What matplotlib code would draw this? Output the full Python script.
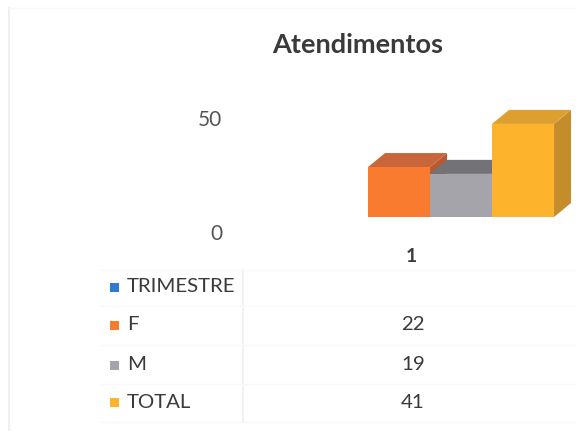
import matplotlib
matplotlib.use("Agg")
import matplotlib.pyplot as plt
import matplotlib.transforms as mtransforms
from matplotlib.patches import Polygon, Rectangle

plt.rcParams["font.family"] = ["Lato", "DejaVu Sans"]

TITLE = "Atendimentos"
CATEGORIES = ["1"]
SERIES = ["TRIMESTRE", "F", "M", "TOTAL"]
VALUES = [None, 22, 19, 41]
Y_TICKS = [0, 50]

FRONT = ["#2F7BD0", "#F97B2F", "#A4A4AA", "#FDB32C"]
TOP = ["#2060A8", "#C9653A", "#737377", "#DDA030"]
SIDE = ["#1E5590", "#B85A30", "#88888C", "#C58C2C"]
TEXT = "#3a3a3a"

W, H = 580, 434
fig = plt.figure(figsize=(W / 100, H / 100), dpi=100)


def fx(px):
    return px / W


def fy(py):
    return 1 - py / H


# plot area = front faces of the 3d columns
left, right, bottom, top = 243, 580, 217, 103.5
ax = fig.add_axes([fx(left), fy(bottom), fx(right - left), (bottom - top) / H])
ax.set_xlim(-0.5, 0.5)
ax.set_ylim(0, 50)
for s in ax.spines.values():
    s.set_visible(False)

bw = 62 / (right - left)          # column width in data units
shift = 0.055                     # perspective shift of the group
ddx = 17 / (right - left)         # depth offset (x)
ddy = 14 / ((bottom - top) / 50)  # depth offset (y)

for i, (name, v) in enumerate(zip(SERIES, VALUES)):
    if v is None:
        continue
    xl = (i - len(SERIES) / 2) * bw + shift
    z = 2 + i
    side = Polygon([(xl + bw, 0), (xl + bw, v), (xl + bw + ddx, v + ddy),
                    (xl + bw + ddx, ddy)], closed=True, facecolor=SIDE[i],
                   edgecolor="none", zorder=z, clip_on=False)
    topf = Polygon([(xl, v), (xl + bw, v), (xl + bw + ddx, v + ddy),
                    (xl + ddx, v + ddy)], closed=True, facecolor=TOP[i],
                   edgecolor="none", zorder=z, clip_on=False)
    ax.add_patch(side)
    ax.add_patch(topf)
    ax.bar(xl, v, width=bw, align="edge", color=FRONT[i], edgecolor="none",
           zorder=z + 0.5, clip_on=False)

ax.set_yticks(Y_TICKS)
ax.set_yticklabels([str(t) for t in Y_TICKS], fontsize=15, color="#555555")
ax.tick_params(axis="y", length=0, pad=15)
off = mtransforms.ScaledTranslation(0, -15 / 100, fig.dpi_scale_trans)
for lab in ax.get_yticklabels():
    lab.set_transform(lab.get_transform() + off)

ax.set_xticks([0])
ax.set_xticklabels(CATEGORIES, fontsize=14, color=TEXT, fontweight="bold")
ax.tick_params(axis="x", length=0, pad=22)

fig.text(fx(358), fy(45), TITLE, fontsize=19.5, fontweight="bold", color=TEXT,
         ha="center", va="center")

# data table
row_y = [287, 325, 365, 402]
val_x = 413
for i, (name, v) in enumerate(zip(SERIES, VALUES)):
    y = row_y[i]
    fig.patches.append(Rectangle((fx(110), fy(y + 4.5)), fx(9), 9 / H,
                                 transform=fig.transFigure, facecolor=FRONT[i],
                                 edgecolor="none"))
    fig.text(fx(127), fy(y), name, fontsize=14.7, color=TEXT, ha="left",
             va="center")
    if v is not None:
        fig.text(fx(val_x), fy(y), str(v), fontsize=14.7, color=TEXT,
                 ha="center", va="center")

fig.add_artist(plt.Line2D([fx(243), fx(243)], [fy(270), fy(422)],
                          color="#efefef", lw=1.2))
for yb in [270, 306, 345, 384, 422]:
    fig.add_artist(plt.Line2D([fx(100), fx(575)], [fy(yb), fy(yb)],
                              color="#f8f8f8", lw=1))

# faint chart border
fig.add_artist(plt.Line2D([fx(9), fx(9)], [fy(8), fy(430)], color="#efefef", lw=1.5))
fig.add_artist(plt.Line2D([fx(9), fx(575)], [fy(8), fy(8)], color="#f8f8f8", lw=1))

fig.savefig("out.png", dpi=100)
